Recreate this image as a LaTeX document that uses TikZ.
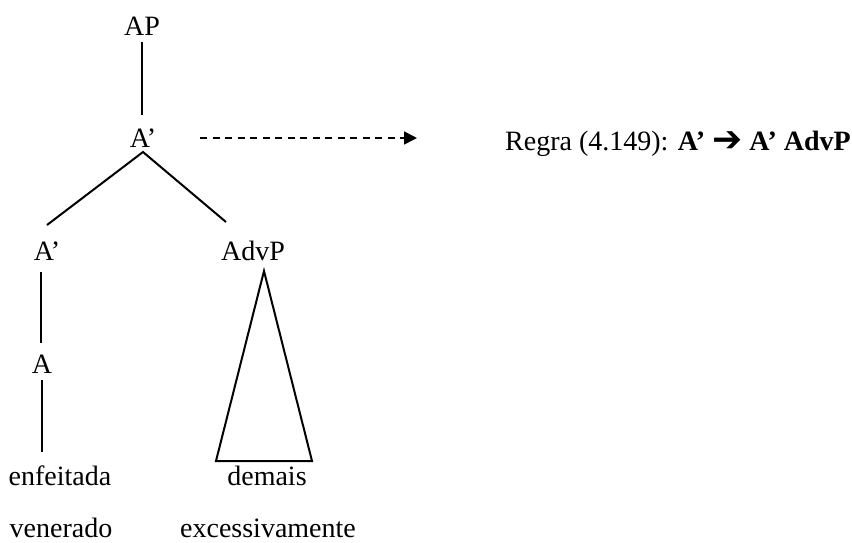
\documentclass[tikz,border=0pt]{standalone}
\usepackage{fontspec}
\setmainfont{Liberation Serif}
\newfontfamily\arrowfont{DejaVu Sans}
\usetikzlibrary{arrows.meta,calc}
\begin{document}
\begin{tikzpicture}[x=1pt,y=-1pt,
  lbl/.style={font=\fontsize{28}{32}\selectfont, inner sep=0pt, anchor=base},
  edge/.style={line width=2pt},
  dasharrow/.style={line width=1.6pt, dash pattern=on 7pt off 5.5pt, -{Triangle[length=13pt,width=13pt]}}
  ]
\fill[white] (0,0) rectangle (852,542);
\useasboundingbox (0,0) rectangle (852,542);
\node[lbl] (AP) at (142,35) {AP};
\node[lbl] (A1) at (143,147) {A’};
\node[lbl] (A2) at (47,260) {A’};
\node[lbl] (AdvP) at (253,260) {AdvP};
\node[lbl] (A) at (42,373) {A};
\node[lbl] (enf) at (60,485) {enfeitada};
\node[lbl] (dem) at (267,485) {demais};
\node[lbl] (ven) at (61,537) {venerado};
\node[lbl] (exc) at (268,537) {excessivamente};
\node[lbl, anchor=base west] (rule) at (505,150) {Regra (4.149): \textbf{A’ {\arrowfont\fontsize{36}{40}\selectfont\raisebox{-1pt}{➔}} A’ AdvP}};
\draw[edge] ($(AP.base)+(0,7)$) -- ($(A1.base)+(-1,-32)$);
\draw[edge] ($(A2.base)+(0,-35)$) -- ($(A1.base)+(0,5)$) -- ($(AdvP.base)+(-27,-38)$);
\draw[edge] ($(A2.base)+(-6,12)$) -- ($(A.base)+(-1,-30)$);
\draw[edge] ($(A.base)+(0,7)$) -- ($(enf.base)+(-18,-33)$);
\draw[edge, line join=miter] ($(AdvP.base)+(11,11)$) -- ++(-48,190) -- ++(96,0) -- cycle;
\draw[dasharrow] ($(A1.base)+(57,-9)$) -- ($(rule.base west)+(-88,-12)$);
\end{tikzpicture}
\end{document}
